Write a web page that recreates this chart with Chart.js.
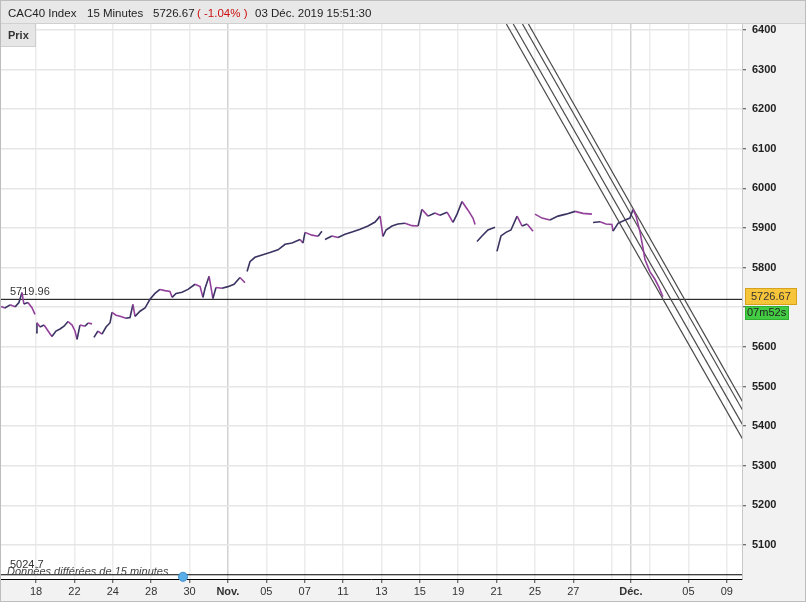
<!DOCTYPE html>
<html>
<head>
<meta charset="utf-8">
<title>CAC40 Index 15 Minutes</title>
<script src="https://cdn.jsdelivr.net/npm/chart.js@4.4.1/dist/chart.umd.min.js"></script>
<style>
  html, body { margin: 0; padding: 0; background: #fff; }
  #wrap { position: relative; width: 806px; height: 602px; overflow: hidden; font-family: 'Liberation Sans', Arial, sans-serif; }
  #c { position: absolute; left: 0; top: 0; }
  #hdr { position: absolute; left: 1px; top: 1px; width: 804px; height: 23px; background: #e8e8e8;
         border-bottom: 1px solid #d0d0d0; box-sizing: border-box;
         font-size: 11.5px; color: #222; line-height: 25px; }
  #hdr span { position: absolute; top: 0; white-space: nowrap; }
  #hdr .red { color: #cc1111; }
  #prix { position: absolute; left: 1px; top: 24px; width: 35px; height: 23px; background: #e6e6e6;
          border-right: 1px solid #cfcfcf; border-bottom: 1px solid #cfcfcf; box-sizing: border-box;
          font-size: 11px; font-weight: bold; color: #333; line-height: 22px; padding-left: 7px; }
</style>
</head>
<body>
<div id="wrap">
  <canvas id="c" width="806" height="602"></canvas>
  <div id="hdr">
    <span style="left:7px">CAC40 Index</span>
    <span style="left:86px">15 Minutes</span>
    <span style="left:152px">5726.67</span>
    <span class="red" style="left:196px">( -1.04% )</span>
    <span style="left:254px">03 Déc. 2019 15:51:30</span>
  </div>
  <div id="prix">Prix</div>
</div>
<script>
// x = trading days counted from 18 Oct 2019, null price = gap in the quotes
const days = [
  -1.82, -1.62, -1.35, -1.09, -0.89, -0.73, -0.63, -0.42, -0.21, -0.05, -0.02,
  0.0, 0.05, 0.21, 0.42, 0.63, 0.83, 1.04, 1.25, 1.46, 1.67, 1.88, 2.03, 2.14, 2.29, 2.55, 2.71, 2.92, 2.97,
  3.02, 3.23, 3.44, 3.65, 3.86, 3.96, 4.17, 4.38, 4.69, 4.90, 5.05, 5.16, 5.42, 5.68, 5.94, 6.20, 6.46, 6.72,
  6.98, 7.09, 7.30, 7.61, 7.92, 8.29, 8.55, 8.70, 8.81, 9.02, 9.22, 9.38, 9.69, 10.0, 10.32, 10.63, 10.89, 10.95,
  11.0, 11.15, 11.41, 11.78, 12.19, 12.61, 12.98, 13.34, 13.76, 13.91, 14.02, 14.38, 14.70, 14.90, 14.98,
  15.06, 15.42, 15.74, 16.10, 16.47, 16.89, 17.30, 17.67, 17.93, 18.08, 18.24, 18.55, 18.86, 19.23, 19.59,
  19.91, 20.11, 20.43, 20.79, 21.05, 21.42, 21.73, 21.94, 22.2, 22.51, 22.77, 22.88, 22.93,
  22.98, 23.24, 23.55, 23.92, 23.97,
  24.02, 24.23, 24.49, 24.75, 25.07, 25.33, 25.59, 25.9, 25.95,
  26.0, 26.37, 26.78, 27.2, 27.62, 28.09, 28.5, 28.97, 29.0,
  29.03, 29.39, 29.7, 30.01, 30.07, 30.33, 30.7, 30.95, 31.11, 31.27, 31.48, 31.63, 31.73, 31.99, 32.26,
  32.47, 32.62, 32.67
];
const prices = [
  5702, 5698, 5706, 5701, 5712, 5737, 5708, 5712, 5699, 5682, null,
  5636, 5661, 5650, 5655, 5640, 5626, 5640, 5645, 5652, 5664, 5655, 5640, 5619, 5655, 5652, 5660, 5658, null,
  5624, 5640, 5632, 5650, 5661, 5687, 5680, 5677, 5672, 5674, 5707, 5677, 5690, 5698, 5720, 5735, 5745, 5742,
  5740, 5725, 5735, 5738, 5745, 5758, 5752, 5725, 5748, 5778, 5722, 5750, 5748, 5752, 5758, 5775, 5762, null,
  5790, 5815, 5826, 5832, 5838, 5845, 5859, 5862, 5871, 5862, 5889, 5882, 5879, 5892, null,
  5871, 5880, 5876, 5884, 5890, 5897, 5905, 5915, 5930, 5879, 5895, 5905, 5910, 5912, 5906,
  5905, 5947, 5930, 5938, 5932, 5940, 5914, 5935, 5967, 5945, 5925, 5909, null,
  5866, 5880, 5895, 5902, null,
  5841, 5880, 5889, 5895, 5930, 5905, 5910, 5892, null,
  5935, 5925, 5920, 5930, 5935, 5942, 5937, 5935, null,
  5914, 5916, 5910, 5909, 5892, 5912, 5920, 5925, 5947, 5930, 5889, 5850, 5821, 5790, 5770,
  5750, 5732, 5726.67
];

const xTickDays   = [0, 2, 4, 6, 8, 10, 12, 14, 16, 18, 20, 22, 24, 26, 28, 30, 31, 32, 34, 36];
const xTickLabels = ['18', '22', '24', '28', '30', 'Nov.', '05', '07', '11', '13', '15', '19', '21', '25', '27', '', 'Déc.', '', '05', '09'];
const monthLabels = ['Nov.', 'Déc.'];
const yTicks = [5100, 5200, 5300, 5400, 5500, 5600, 5700, 5800, 5900, 6000, 6100, 6200, 6300, 6400];
const yHiddenLabel = 5700; // covered by the last price box

// trend channel (4 parallel lines)
const channelTopDay = [24.51, 24.87, 25.35, 25.66];
const channelTopPrice = 6415;
const channelEndDay = 37;
const channelEndPrice = [5352, 5388, 5425, 5446];

const refLevel = 5719.96;
const lowLevel = 5024.7;
const lastPrice = 5726.67;
const countdown = '07m52s';
const markerDay = 7.66;
const markerPrice = 5019.6;

const FONT = "'Liberation Sans', Arial, sans-serif";
const UP = '#3a3462';
const DOWN = '#93409b';

const priceData = days.map((d, i) => ({ x: d, y: prices[i] }));

const datasets = [
  {
    label: 'Prix',
    data: priceData,
    borderWidth: 1.6,
    pointRadius: 0,
    spanGaps: false,
    tension: 0,
    borderColor: DOWN,
    segment: {
      borderColor: ctx => (ctx.p1.parsed.y >= ctx.p0.parsed.y ? UP : DOWN)
    },
    order: 1
  }
];

channelTopDay.forEach((d, i) => {
  datasets.push({
    label: 'canal' + i,
    data: [{ x: d, y: channelTopPrice }, { x: channelEndDay, y: channelEndPrice[i] }],
    borderColor: '#4a4a4a',
    borderWidth: 1.2,
    pointRadius: 0,
    order: 2
  });
});

[refLevel, lowLevel].forEach(v => {
  datasets.push({
    label: 'niveau ' + v,
    data: [{ x: -3, y: v }, { x: 38, y: v }],
    borderColor: '#000',
    borderWidth: 1,
    pointRadius: 0,
    order: 3
  });
});

datasets.push({
  type: 'scatter',
  label: 'marker',
  data: [{ x: markerDay, y: markerPrice }],
  pointRadius: 4.5,
  pointBackgroundColor: '#5aaee8',
  pointBorderColor: '#3d8fd0',
  pointBorderWidth: 1,
  clip: false,
  order: 0
});

const decor = {
  id: 'decor',
  beforeDraw(chart) {
    const { ctx, chartArea: a } = chart;
    ctx.save();
    ctx.fillStyle = '#f2f2f2';
    ctx.fillRect(0, 0, chart.width, chart.height);
    ctx.fillStyle = '#ffffff';
    ctx.fillRect(a.left, a.top, a.right - a.left, a.bottom - a.top);
    ctx.restore();
  },
  afterDraw(chart) {
    const { ctx } = chart;
    const y = chart.scales.y;
    ctx.save();
    ctx.textBaseline = 'alphabetic';
    ctx.fillStyle = '#333';
    ctx.font = '11px ' + FONT;
    ctx.fillText(refLevel.toFixed(2), 10, y.getPixelForValue(refLevel) - 4);
    ctx.fillText(String(lowLevel), 10, 568);
    ctx.font = 'italic 11px ' + FONT;
    ctx.fillStyle = '#444';
    ctx.fillText('Données différées de 15 minutes', 7, 575);

    // last price box
    const py = Math.round(y.getPixelForValue(lastPrice));
    ctx.fillStyle = '#f7c53a';
    ctx.fillRect(745, py - 9, 52, 17);
    ctx.strokeStyle = '#d6a21c';
    ctx.lineWidth = 1;
    ctx.strokeRect(745.5, py - 8.5, 51, 16);
    ctx.fillStyle = '#333';
    ctx.font = '11px ' + FONT;
    ctx.textBaseline = 'middle';
    ctx.fillText(lastPrice.toFixed(2), 751, py);
    // countdown box
    ctx.fillStyle = '#43cc43';
    ctx.fillRect(745, py + 9, 44, 14);
    ctx.strokeStyle = '#2fae2f';
    ctx.strokeRect(745.5, py + 9.5, 43, 13);
    ctx.fillStyle = '#222';
    ctx.fillText(countdown, 747, py + 16);

    ctx.strokeStyle = '#bdbdbd';
    ctx.strokeRect(0.5, 0.5, chart.width - 1, chart.height - 1);
    ctx.restore();
  }
};

new Chart(document.getElementById('c').getContext('2d'), {
  type: 'line',
  data: { datasets },
  options: {
    responsive: false,
    devicePixelRatio: 1,
    animation: false,
    layout: { autoPadding: false, padding: { top: 24, left: 0, right: 0, bottom: 0 } },
    plugins: { legend: { display: false }, tooltip: { enabled: false } },
    scales: {
      x: {
        type: 'linear',
        position: 'bottom',
        min: -1.876,
        max: 36.79,
        afterBuildTicks: s => { s.ticks = xTickDays.map(v => ({ value: v })); },
        afterFit: s => { s.height = 23; },
        border: { display: true, color: '#000', width: 1 },
        grid: {
          color: ctx => (ctx.tick && monthLabels.includes(ctx.tick.label) ? '#d2d2d2' : '#ececec'),
          lineWidth: 1.5,
          tickLength: 4,
          tickWidth: 1,
          tickColor: ctx => (ctx.tick && ctx.tick.label === '' ? 'rgba(0,0,0,0)' : '#444')
        },
        ticks: {
          autoSkip: false,
          maxRotation: 0,
          padding: 2,
          color: '#333',
          font: ctx => ({
            family: FONT,
            size: 11,
            weight: ctx.tick && monthLabels.includes(ctx.tick.label) ? 'bold' : 'normal'
          }),
          callback: (v, i) => xTickLabels[i]
        }
      },
      y: {
        position: 'right',
        min: 5014,
        max: 6415,
        afterBuildTicks: s => { s.ticks = yTicks.map(v => ({ value: v })); },
        afterFit: s => { s.width = 64; },
        border: { display: true, color: '#c8c8c8', width: 1 },
        grid: {
          color: '#e6e6e6',
          lineWidth: 1.5,
          tickLength: 4,
          tickWidth: 1,
          tickColor: '#444'
        },
        ticks: {
          autoSkip: false,
          padding: 6,
          color: '#222',
          font: { family: FONT, size: 11, weight: 'bold' },
          callback: v => (v === yHiddenLabel ? '' : String(v))
        }
      }
    }
  },
  plugins: [decor]
});
</script>
</body>
</html>
